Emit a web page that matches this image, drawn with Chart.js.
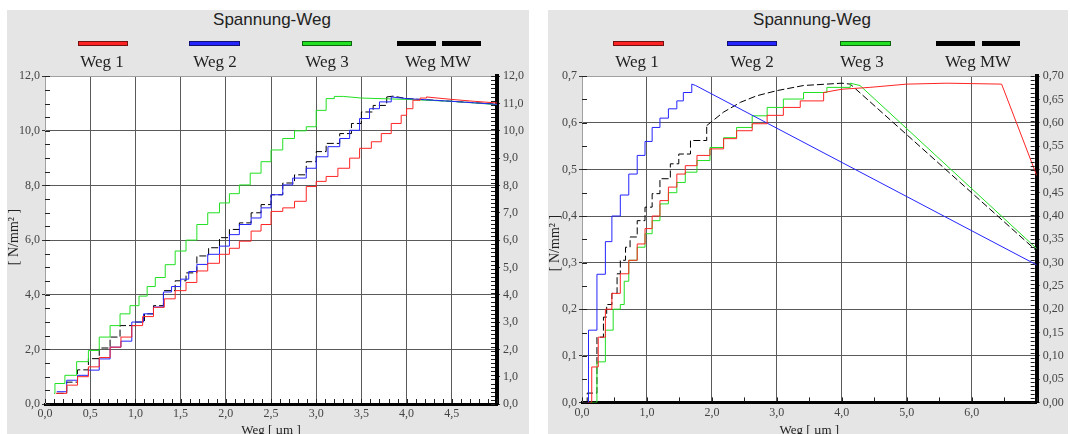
<!DOCTYPE html>
<html>
<head>
<meta charset="utf-8">
<title>Spannung-Weg</title>
<script src="https://cdn.jsdelivr.net/npm/chart.js@4.4.1/dist/chart.umd.min.js"></script>
<style>
  body { margin: 0; width: 1070px; height: 434px; overflow: hidden; background: #fff; position: relative; }
  .panel { position: absolute; top: 10px; height: 424px; background: #e5e5e5; }
  .titel { position: absolute; top: 10px; font: 17px "Liberation Sans", Arial, sans-serif; color: #222; transform: translateX(-50%); white-space: nowrap; }
  .strich { position: absolute; top: 41px; height: 3px; border: 1px solid rgba(0, 0, 0, 0.55); }
  .name { position: absolute; top: 52px; font: 17px "Liberation Serif", "Times New Roman", serif; color: #222; transform: translateX(-50%); white-space: nowrap; }
  canvas { position: absolute; }
</style>
</head>
<body>
<div class="panel" style="left:7px; width:522px"></div>
<div class="panel" style="left:548px; width:520px"></div>
<canvas id="links" width="522" height="372" style="left:7px; top:66px"></canvas>
<canvas id="rechts" width="520" height="372" style="left:548px; top:66px"></canvas>

<script>
const serien = ["Weg 1", "Weg 2", "Weg 3", "Weg MW"];
const farben = ["#ff2424", "#2424ff", "#22e022", "#000000"];

// linkes Diagramm: Weg 0..5 µm, Spannung 0..12 N/mm²
const l1StufeX = [0.12, 0.24, 0.36, 0.48, 0.6, 0.72, 0.84, 0.96, 1.08, 1.2, 1.32, 1.44, 1.56, 1.68, 1.8, 1.93, 2.04, 2.15, 2.28, 2.39, 2.5, 2.63, 2.76, 2.89, 3.0, 3.11, 3.24, 3.37, 3.48, 3.61, 3.72, 3.83, 3.94, 4.0, 4.07, 4.15, 4.22];
const l1StufeY = [0.39, 0.69, 1.0, 1.36, 1.7, 2.08, 2.45, 2.87, 3.2, 3.54, 3.85, 4.15, 4.45, 4.87, 5.15, 5.48, 5.7, 5.96, 6.33, 6.57, 7.05, 7.18, 7.42, 7.96, 8.15, 8.33, 8.63, 9.0, 9.36, 9.6, 9.9, 10.27, 10.57, 10.81, 11.12, 11.2, 11.24];
const l1EndeX = [4.22, 4.5, 4.75, 5.0];
const l1EndeY = [11.24, 11.15, 11.08, 11.02];

const l2StufeX = [0.13, 0.24, 0.36, 0.48, 0.6, 0.72, 0.84, 0.96, 1.09, 1.2, 1.31, 1.4, 1.5, 1.59, 1.68, 1.8, 1.93, 2.04, 2.15, 2.28, 2.39, 2.5, 2.63, 2.74, 2.89, 3.0, 3.13, 3.26, 3.37, 3.48, 3.59, 3.7, 3.83];
const l2StufeY = [0.45, 0.87, 1.05, 1.24, 1.65, 2.08, 2.3, 3.0, 3.3, 3.55, 4.1, 4.3, 4.57, 4.85, 5.11, 5.48, 5.78, 6.2, 6.57, 6.81, 7.18, 7.66, 8.02, 8.27, 8.63, 9.05, 9.42, 9.72, 10.02, 10.45, 10.81, 11.06, 11.24];
const l2EndeX = [3.83, 4.0, 4.5, 5.0];
const l2EndeY = [11.24, 11.18, 11.08, 10.97];

const l3StufeX = [0.1, 0.11, 0.22, 0.35, 0.48, 0.6, 0.72, 0.83, 0.94, 1.04, 1.13, 1.22, 1.33, 1.44, 1.56, 1.68, 1.8, 1.93, 2.04, 2.15, 2.27, 2.39, 2.5, 2.63, 2.76, 2.89, 3.0, 3.11, 3.2];
const l3StufeY = [0.39, 0.75, 1.05, 1.55, 1.96, 2.45, 2.87, 3.3, 3.6, 3.95, 4.3, 4.63, 5.1, 5.6, 6.0, 6.57, 7.0, 7.36, 7.7, 8.02, 8.45, 8.87, 9.3, 9.72, 10.0, 10.15, 10.75, 11.18, 11.26];
const l3EndeX = [3.2, 3.3, 3.5, 4.0, 4.5, 5.0];
const l3EndeY = [11.26, 11.26, 11.2, 11.15, 11.08, 10.96];

const lMwStufeX = [0.13, 0.24, 0.36, 0.48, 0.6, 0.72, 0.83, 1.0, 1.1, 1.2, 1.31, 1.44, 1.56, 1.68, 1.81, 1.93, 2.04, 2.15, 2.28, 2.39, 2.5, 2.63, 2.76, 2.89, 3.0, 3.11, 3.26, 3.39, 3.5, 3.63, 3.78];
const lMwStufeY = [0.39, 0.8, 1.25, 1.66, 2.05, 2.45, 2.87, 3.0, 3.3, 3.6, 4.15, 4.51, 4.8, 5.42, 5.72, 6.09, 6.39, 6.63, 7.0, 7.3, 7.66, 8.09, 8.39, 8.87, 9.24, 9.54, 9.9, 10.27, 10.69, 10.93, 11.24];
const lMwEndeX = [3.78, 3.85, 4.0, 4.5, 5.0];
const lMwEndeY = [11.24, 11.27, 11.18, 11.08, 10.98];

// rechtes Diagramm: Weg 0..7 µm, Spannung 0..0.7 N/mm²
const r1StufeX = [0.09, 0.15, 0.25, 0.36, 0.46, 0.59, 0.72, 0.85, 0.97, 1.08, 1.2, 1.33, 1.46, 1.59, 1.77, 1.97, 2.18, 2.38, 2.62, 2.85, 3.1, 3.36, 3.72];
const r1StufeY = [0.0, 0.076, 0.14, 0.2, 0.234, 0.276, 0.305, 0.34, 0.373, 0.4, 0.433, 0.462, 0.49, 0.508, 0.53, 0.544, 0.566, 0.583, 0.598, 0.616, 0.633, 0.647, 0.665];
const r1EndeX = [3.72, 4.0, 4.43, 5.0, 5.62, 6.46, 7.0];
const r1EndeY = [0.665, 0.672, 0.676, 0.683, 0.685, 0.683, 0.487];

const r2StufeX = [0.08, 0.1, 0.23, 0.36, 0.46, 0.59, 0.72, 0.85, 0.97, 1.08, 1.2, 1.33, 1.46, 1.56, 1.69];
const r2StufeY = [0.0, 0.155, 0.275, 0.345, 0.4, 0.445, 0.49, 0.53, 0.56, 0.59, 0.61, 0.63, 0.647, 0.665, 0.683];
const r2EndeX = [1.69, 1.75, 7.0];
const r2EndeY = [0.683, 0.68, 0.295];

const r3StufeX = [0.12, 0.23, 0.36, 0.48, 0.59, 0.65, 0.72, 0.85, 0.97, 1.08, 1.2, 1.33, 1.46, 1.59, 1.77, 1.97, 2.18, 2.38, 2.62, 2.85, 3.1, 3.41, 3.77, 4.13];
const r3StufeY = [0.0, 0.087, 0.155, 0.2, 0.21, 0.26, 0.305, 0.333, 0.362, 0.39, 0.426, 0.45, 0.472, 0.494, 0.519, 0.547, 0.568, 0.59, 0.615, 0.633, 0.651, 0.665, 0.676, 0.685];
const r3EndeX = [4.13, 4.28, 7.0];
const r3EndeY = [0.685, 0.68, 0.33];

const rMwStufeX = [0.05, 0.08, 0.23, 0.33, 0.38, 0.46, 0.54, 0.59, 0.67, 0.74, 0.85, 0.97, 1.08, 1.2, 1.36, 1.49, 1.67, 1.92];
const rMwStufeY = [0.0, 0.02, 0.14, 0.183, 0.21, 0.234, 0.276, 0.305, 0.333, 0.355, 0.39, 0.419, 0.448, 0.48, 0.512, 0.533, 0.562, 0.594];
const rMwEndeX = [1.92, 2.18, 2.44, 2.69, 3.0, 3.41, 4.0, 4.13, 7.0];
const rMwEndeY = [0.594, 0.623, 0.644, 0.658, 0.669, 0.68, 0.685, 0.683, 0.325];

const fmt = (v, d) => v.toFixed(d).replace(".", ",");
const zip = (xs, ys) => xs.map((x, i) => ({ x: x, y: ys[i] }));
const serif = "'Liberation Serif', 'Times New Roman', serif";

// Legende: Strich über dem Namen, MW als zwei Striche
function legende(striche, mitten, titelX) {
  const t = document.createElement("div");
  t.className = "titel";
  t.style.left = titelX + "px";
  t.textContent = "Spannung-Weg";
  document.body.appendChild(t);
  striche.forEach((s, i) => {
    const farbe = farben[Math.min(i, 3)];
    const d = document.createElement("div");
    d.className = "strich";
    d.style.left = s[0] + "px";
    d.style.width = (s[1] - s[0] - 2) + "px";
    d.style.background = farbe;
    document.body.appendChild(d);
  });
  serien.forEach((name, i) => {
    const n = document.createElement("div");
    n.className = "name";
    n.style.left = mitten[i] + "px";
    n.textContent = name;
    document.body.appendChild(n);
  });
}
legende([[78, 128], [189, 240], [302, 352], [397, 436], [442, 481]], [102, 215, 327, 438], 272);
legende([[613, 664], [727, 777], [840, 891], [936, 975], [982, 1020]], [637, 752, 862, 978], 812);

function kurven(stufen, enden) {
  const sets = [];
  serien.forEach((name, i) => {
    const stil = { borderColor: farben[i], borderWidth: 1, pointRadius: 0, borderDash: i === 3 ? [7, 3] : [] };
    sets.push(Object.assign({ label: name, data: zip(stufen[i][0], stufen[i][1]), stepped: true }, stil));
    sets.push(Object.assign({ label: name, data: zip(enden[i][0], enden[i][1]) }, stil));
  });
  return sets;
}

// weiße Plotfläche auf grauem Grund
const weiss = {
  id: "weiss",
  beforeDraw(chart) {
    const a = chart.chartArea;
    chart.ctx.save();
    chart.ctx.fillStyle = "#fff";
    chart.ctx.fillRect(a.left, a.top, a.right - a.left, a.bottom - a.top);
    chart.ctx.restore();
  }
};

// kleine Teilstriche nach innen
const feinStriche = {
  id: "feinStriche",
  afterDraw(chart, args, opts) {
    const ctx = chart.ctx, a = chart.chartArea;
    ctx.save();
    ctx.strokeStyle = "#222";
    ctx.lineWidth = 1;
    opts.marks.forEach(m => {
      const sc = chart.scales[m.scale];
      const n = Math.round((sc.max - sc.min) / m.step);
      ctx.beginPath();
      for (let i = 0; i <= n; i++) {
        const p = Math.round(sc.getPixelForValue(sc.min + i * m.step)) + 0.5;
        if (sc.isHorizontal()) {
          ctx.moveTo(p, a.bottom - 1);
          ctx.lineTo(p, a.bottom - 1 - m.len);
        } else if (sc.position === "left") {
          ctx.moveTo(a.left, p);
          ctx.lineTo(a.left + m.len, p);
        } else {
          ctx.moveTo(a.right - 2, p);
          ctx.lineTo(a.right - 2 - m.len, p);
        }
      }
      ctx.stroke();
    });
    ctx.restore();
  }
};

// senkrechte Achsbeschriftung
const yTitel = {
  id: "yTitel",
  afterDraw(chart, args, opts) {
    const ctx = chart.ctx;
    ctx.save();
    ctx.translate(opts.x, opts.y);
    ctx.rotate(-Math.PI / 2);
    ctx.font = "14px " + serif;
    ctx.fillStyle = "#222";
    ctx.textAlign = "center";
    ctx.textBaseline = "middle";
    ctx.fillText("[ N/mm² ]", 0, 0);
    ctx.restore();
  }
};

function diagramm(id, o) {
  const tickFont = { family: serif, size: 12 };
  new Chart(id, {
    type: "line",
    data: { datasets: kurven(o.stufen, o.enden) },
    plugins: [weiss, feinStriche, yTitel],
    options: {
      responsive: false,
      animation: false,
      layout: { padding: { top: o.oben, left: 0, right: 0, bottom: 0 } },
      plugins: {
        legend: { display: false },
        tooltip: { enabled: false },
        feinStriche: { marks: o.marks },
        yTitel: o.titel
      },
      scales: {
        x: {
          type: "linear", min: 0, max: o.xMax, position: "bottom",
          ticks: { stepSize: o.xStep, autoSkip: false, maxRotation: 0, padding: 3, font: tickFont, color: "#444",
            callback: v => v >= o.xMax ? "" : fmt(v, 1) },
          grid: { color: c => c.tick && c.tick.value === 0 ? "#a0a0a0" : "#5a5a5a", drawTicks: false },
          border: { color: "#000", width: 3 },
          title: { display: true, text: "Weg [ µm ]", font: { family: serif, size: 13 }, color: "#222", padding: 0 },
          afterFit: s => { s.height = o.xHoehe; }
        },
        y: {
          type: "linear", min: 0, max: o.yMax, position: "left",
          ticks: { stepSize: o.yStep, autoSkip: false, padding: 2, font: tickFont, color: "#444",
            callback: v => fmt(v, 1) },
          grid: { color: c => c.tick && Math.abs(c.tick.value - o.yMax) < 1e-9 ? "#a0a0a0" : "#5a5a5a", tickColor: "#333", tickLength: 3 },
          border: { color: "#a0a0a0", width: 1 },
          afterFit: s => { s.width = o.links; }
        },
        y2: {
          type: "linear", min: 0, max: o.yMax, position: "right",
          ticks: { stepSize: o.y2Step, autoSkip: false, padding: 3, font: tickFont, color: "#444",
            callback: v => fmt(v, o.y2Stellen) },
          grid: { drawOnChartArea: false, tickColor: "#333", tickLength: 3 },
          border: { color: "#000", width: 4 },
          afterFit: s => { s.width = o.rechts; }
        }
      }
    }
  });
}

diagramm("links", {
  stufen: [[l1StufeX, l1StufeY], [l2StufeX, l2StufeY], [l3StufeX, l3StufeY], [lMwStufeX, lMwStufeY]],
  enden: [[l1EndeX, l1EndeY], [l2EndeX, l2EndeY], [l3EndeX, l3EndeY], [lMwEndeX, lMwEndeY]],
  xMax: 5, xStep: 0.5, yMax: 12, yStep: 2, y2Step: 1, y2Stellen: 1,
  oben: 8, links: 38, rechts: 32, xHoehe: 34,
  marks: [{ scale: "x", step: 0.1, len: 4 }, { scale: "y", step: 0.5, len: 5 }, { scale: "y2", step: 0.15, len: 4 }],
  titel: { x: 7, y: 171 }
});

diagramm("rechts", {
  stufen: [[r1StufeX, r1StufeY], [r2StufeX, r2StufeY], [r3StufeX, r3StufeY], [rMwStufeX, rMwStufeY]],
  enden: [[r1EndeX, r1EndeY], [r2EndeX, r2EndeY], [r3EndeX, r3EndeY], [rMwEndeX, rMwEndeY]],
  xMax: 7, xStep: 1, yMax: 0.7, yStep: 0.1, y2Step: 0.05, y2Stellen: 2,
  oben: 9.7, links: 34, rechts: 31.3, xHoehe: 35.6,
  marks: [{ scale: "x", step: 0.5, len: 4 }, { scale: "y", step: 0.05, len: 5 }, { scale: "y2", step: 0.00875, len: 4 }],
  titel: { x: 7, y: 177 }
});
</script>
</body>
</html>
